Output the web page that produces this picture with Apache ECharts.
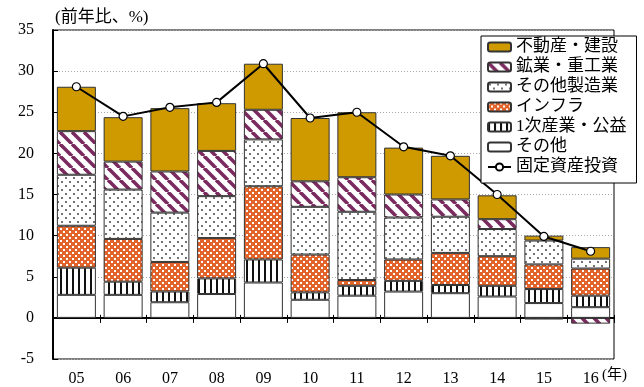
<!DOCTYPE html>
<html>
<head>
<meta charset="utf-8">
<script src="https://cdn.jsdelivr.net/npm/echarts@6/dist/echarts.min.js"></script>
<style>
html,body{margin:0;padding:0;background:#fff;}
#chart{width:644px;height:387px;}
</style>
</head>
<body>
<div id="chart"></div>
<script>
// ---- data ----
const categories = ['05','06','07','08','09','10','11','12','13','14','15','16'];
const seriesNames = ['不動産・建設','鉱業・重工業','その他製造業','インフラ','1次産業・公益','その他','固定資産投資'];
const otherVals      = [2.8, 2.8, 1.9, 2.9, 4.3, 2.2, 2.7, 3.2, 3.0, 2.6, 1.8, 1.3];
const primaryVals    = [3.3, 1.6, 1.3, 1.9, 2.8, 0.9, 1.2, 1.3, 1.0, 1.3, 1.7, 1.4];
const infraVals      = [5.1, 5.2, 3.6, 4.9, 8.9, 4.6, 0.7, 2.6, 3.9, 3.6, 3.0, 3.3];
const otherMfgVals   = [6.2, 6.0, 6.0, 5.1, 5.7, 5.8, 8.3, 5.1, 4.4, 3.3, 2.9, 1.2];
const miningVals     = [5.3, 3.4, 5.0, 5.5, 3.6, 3.1, 4.2, 2.8, 2.1, 1.2, -0.2, -0.7];
const realEstateVals = [5.4, 5.4, 7.7, 5.8, 5.6, 7.7, 7.9, 5.7, 5.3, 2.9, 0.6, 1.4];
const faiVals        = [28.1, 24.5, 25.6, 26.2, 30.9, 24.3, 25.0, 20.8, 19.7, 15.0, 9.9, 8.1];
const yTicks = { min: -5, max: 35, interval: 5 };

// ---- patterns ----
function makePattern(w, h, draw) {
  const c = document.createElement('canvas');
  c.width = w; c.height = h;
  const g = c.getContext('2d');
  g.fillStyle = '#fff'; g.fillRect(0, 0, w, h);
  draw(g, w, h);
  return { image: c, repeat: 'repeat' };
}
const gold = '#CF9A00';
const purplePat = makePattern(12, 12, (g, w, h) => {
  g.strokeStyle = '#7A2A5E'; g.lineWidth = 3.6;
  for (const x0 of [-w, 0, w]) { g.beginPath(); g.moveTo(x0, 0); g.lineTo(x0 + w, h); g.stroke(); }
});
const dotPat = makePattern(8, 8, (g) => {
  g.fillStyle = '#444';
  g.beginPath(); g.arc(2, 2, 1.0, 0, Math.PI * 2); g.fill();
  g.beginPath(); g.arc(6, 6, 1.0, 0, Math.PI * 2); g.fill();
});
const checkPat = makePattern(6, 6, (g) => {
  g.fillStyle = '#E2642A'; g.fillRect(0, 0, 6, 6);
  g.fillStyle = '#fff'; g.fillRect(0, 0, 2, 2); g.fillRect(3, 3, 2, 2);
});
const stripePat = makePattern(6, 6, (g) => {
  g.fillStyle = '#111'; g.fillRect(0, 0, 2, 6);
});

const serif = "'Liberation Serif', 'Noto Sans CJK JP', serif";
const border = { borderColor: '#333', borderWidth: 1 };

function barSeries(name, data, color) {
  return {
    name: name, type: 'bar', stack: 'total', data: data,
    barWidth: 39, xAxisIndex: 0, yAxisIndex: 0,
    itemStyle: Object.assign({ color: color }, border),
    emphasis: { disabled: true }
  };
}

const chart = echarts.init(document.getElementById('chart'), null, { renderer: 'canvas' });
const option = {
  animation: false,
  backgroundColor: '#fff',
  title: {
    text: '(前年比、%)', left: 50, top: 4,
    textStyle: { fontFamily: serif, fontSize: 17, fontWeight: 'normal', color: '#000' }
  },
  grid: {
    left: 53, right: 30, top: 30, bottom: 28,
    containLabel: false, outerBoundsMode: 'none',
    show: true, borderColor: '#000', borderWidth: 1, backgroundColor: 'transparent'
  },
  legend: {
    orient: 'vertical', left: 481, top: 36,
    data: seriesNames,
    itemWidth: 23, itemHeight: 9, itemGap: 0,
    padding: [1, 10, 6, 6],
    borderColor: '#000', borderWidth: 1, backgroundColor: '#fff',
    textStyle: { fontFamily: serif, fontSize: 17, color: '#000', lineHeight: 20 },
    selectedMode: false, z: 10
  },
  xAxis: [
    {
      type: 'category', data: categories, position: 'bottom',
      axisLine: { onZero: true, onZeroAxisIndex: 0, lineStyle: { color: '#000', width: 2 } },
      axisTick: { show: true, inside: false, length: 5, lineStyle: { color: '#000', width: 1 } },
      axisLabel: { show: false },
      splitLine: { show: false }
    },
    {
      type: 'category', data: categories, position: 'top',
      axisLine: { onZero: true, onZeroAxisIndex: 1, lineStyle: { color: '#000', width: 2 } },
      axisTick: { show: true, inside: false, length: 3, lineStyle: { color: '#000', width: 1 } },
      axisLabel: { show: false },
      splitLine: { show: false }
    },
    {
      type: 'category', data: categories, position: 'bottom', offset: 0,
      axisLine: { show: false, onZero: false },
      axisTick: { show: false },
      axisLabel: { margin: 12, fontFamily: serif, fontSize: 16, color: '#000' },
      splitLine: { show: false }
    }
  ],
  yAxis: [
    {
      type: 'value', min: yTicks.min, max: yTicks.max, interval: yTicks.interval, position: 'left',
      axisLine: { show: true, onZero: false, lineStyle: { color: '#000', width: 2 } },
      axisTick: { show: true, inside: true, length: 5, lineStyle: { color: '#000' } },
      axisLabel: { margin: 19, fontFamily: serif, fontSize: 16, color: '#000' },
      splitLine: { show: true, lineStyle: { color: '#aaa', type: [1, 2], width: 1 } }
    },
    {
      type: 'value', min: yTicks.min, max: yTicks.max, interval: yTicks.interval, position: 'right',
      axisLine: { show: false, onZero: false },
      axisTick: { show: false }, axisLabel: { show: false }, splitLine: { show: false }
    }
  ],
  graphic: [
    { type: 'text', left: 602, top: 368, style: { text: '(年)', font: "15px 'Liberation Serif', 'Noto Sans CJK JP'", fill: '#000' } }
  ],
  series: [
    barSeries(seriesNames[5], otherVals, '#fff'),
    barSeries(seriesNames[4], primaryVals, stripePat),
    barSeries(seriesNames[3], infraVals, checkPat),
    barSeries(seriesNames[2], otherMfgVals, dotPat),
    barSeries(seriesNames[1], miningVals, purplePat),
    barSeries(seriesNames[0], realEstateVals, gold),
    {
      name: seriesNames[6], type: 'line', data: faiVals, z: 5,
      xAxisIndex: 0, yAxisIndex: 0,
      symbol: 'circle', symbolSize: 8,
      lineStyle: { color: '#000', width: 2 },
      itemStyle: { color: '#fff', borderColor: '#000', borderWidth: 1.2 },
      emphasis: { disabled: true }
    }
  ]
};
chart.setOption(option);
</script>
</body>
</html>
